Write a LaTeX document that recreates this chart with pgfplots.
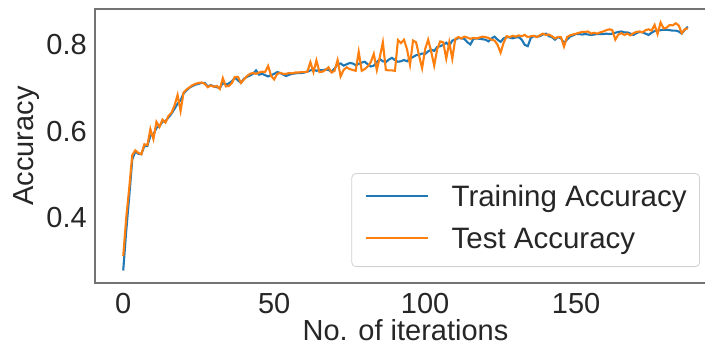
\documentclass[border=0pt]{standalone}
\usepackage{fontspec}
\setmainfont{Liberation Sans}
\usepackage{pgfplots}
\pgfplotsset{compat=1.18}
\usepackage{pgfplotstable}

\definecolor{trainblue}{HTML}{1F77B4}
\definecolor{testorange}{HTML}{FF7F0E}
\definecolor{ink}{rgb}{0.15,0.15,0.15}
\newcommand{\bigfont}{\fontsize{29bp}{34bp}\selectfont}
\newcommand{\legfont}{\fontsize{29.5bp}{34bp}\selectfont}

% accuracy per iteration: training and test
\pgfplotstableread{
it train test
0 0.278 0.311
1 0.370 0.400
2 0.450 0.470
3 0.535 0.545
4 0.553 0.556
5 0.548 0.550
6 0.547 0.547
7 0.566 0.570
8 0.566 0.568
9 0.590 0.605
10 0.592 0.582
11 0.608 0.622
12 0.612 0.610
13 0.622 0.627
14 0.624 0.620
15 0.632 0.636
16 0.641 0.643
17 0.652 0.660
18 0.664 0.684
19 0.672 0.647
20 0.688 0.690
21 0.695 0.697
22 0.701 0.702
23 0.705 0.707
24 0.708 0.710
25 0.710 0.712
26 0.712 0.713
27 0.712 0.710
28 0.704 0.702
29 0.707 0.706
30 0.704 0.703
31 0.702 0.705
32 0.700 0.698
33 0.712 0.723
34 0.708 0.704
35 0.711 0.705
36 0.716 0.712
37 0.724 0.726
38 0.718 0.726
39 0.712 0.712
40 0.722 0.720
41 0.726 0.728
42 0.729 0.733
43 0.733 0.735
44 0.741 0.733
45 0.731 0.736
46 0.733 0.738
47 0.730 0.737
48 0.727 0.751
49 0.730 0.728
50 0.733 0.720
51 0.737 0.733
52 0.735 0.735
53 0.731 0.733
54 0.728 0.733
55 0.731 0.735
56 0.733 0.734
57 0.734 0.736
58 0.735 0.736
59 0.735 0.737
60 0.736 0.737
61 0.738 0.738
62 0.741 0.760
63 0.743 0.737
64 0.740 0.764
65 0.742 0.737
66 0.741 0.738
67 0.743 0.742
68 0.742 0.748
69 0.738 0.736
70 0.745 0.740
71 0.755 0.765
72 0.757 0.727
73 0.752 0.742
74 0.755 0.748
75 0.758 0.744
76 0.757 0.742
77 0.753 0.740
78 0.756 0.784
79 0.759 0.740
80 0.761 0.744
81 0.755 0.750
82 0.750 0.760
83 0.752 0.779
84 0.760 0.742
85 0.767 0.772
86 0.762 0.806
87 0.760 0.742
88 0.766 0.741
89 0.770 0.741
90 0.765 0.740
91 0.761 0.811
92 0.762 0.804
93 0.765 0.812
94 0.762 0.790
95 0.768 0.754
96 0.772 0.810
97 0.776 0.806
98 0.777 0.775
99 0.780 0.746
100 0.779 0.790
101 0.785 0.812
102 0.789 0.785
103 0.786 0.752
104 0.795 0.790
105 0.797 0.808
106 0.800 0.806
107 0.805 0.768
108 0.798 0.806
109 0.810 0.768
110 0.812 0.814
111 0.816 0.818
112 0.815 0.815
113 0.814 0.819
114 0.806 0.817
115 0.801 0.814
116 0.814 0.816
117 0.815 0.815
118 0.814 0.817
119 0.813 0.819
120 0.812 0.818
121 0.808 0.816
122 0.815 0.812
123 0.819 0.810
124 0.812 0.800
125 0.807 0.782
126 0.815 0.805
127 0.818 0.820
128 0.817 0.818
129 0.815 0.821
130 0.817 0.819
131 0.818 0.822
132 0.812 0.820
133 0.800 0.823
134 0.797 0.818
135 0.816 0.820
136 0.820 0.821
137 0.819 0.818
138 0.820 0.822
139 0.824 0.826
140 0.826 0.823
141 0.820 0.824
142 0.818 0.820
143 0.812 0.815
144 0.818 0.818
145 0.815 0.818
146 0.804 0.796
147 0.812 0.818
148 0.819 0.822
149 0.822 0.824
150 0.825 0.826
151 0.825 0.828
152 0.824 0.830
153 0.825 0.830
154 0.824 0.831
155 0.823 0.826
156 0.824 0.828
157 0.825 0.826
158 0.825 0.829
159 0.825 0.831
160 0.826 0.834
161 0.825 0.836
162 0.826 0.834
163 0.828 0.812
164 0.830 0.824
165 0.831 0.827
166 0.829 0.823
167 0.829 0.826
168 0.826 0.822
169 0.823 0.827
170 0.827 0.830
171 0.830 0.831
172 0.829 0.829
173 0.826 0.834
174 0.823 0.836
175 0.828 0.833
176 0.832 0.846
177 0.833 0.825
178 0.834 0.852
179 0.835 0.838
180 0.835 0.840
181 0.834 0.846
182 0.833 0.845
183 0.833 0.850
184 0.831 0.845
185 0.826 0.827
186 0.835 0.836
187 0.842 0.838
}\acc

\begin{document}
\begin{tikzpicture}
\begin{axis}[
  at={(0,0)}, anchor=south west,
  scale only axis, width=621bp, height=274bp,
  xmin=-9.35, xmax=196.35, ymin=0.249, ymax=0.883,
  xtick={0,50,100,150}, ytick={0.4,0.6,0.8},
  major tick length=0pt,
  axis line style={draw=black!55, line width=1.25bp},
  /pgf/number format/assume math mode=true,
  tick label style={font=\bigfont, text=ink, inner sep=0pt},
  xticklabel style={anchor=north, yshift=-10bp},
  yticklabel style={anchor=east, xshift=-8bp,
    /pgf/number format/fixed, /pgf/number format/precision=1},
  label style={font=\bigfont, text=ink, inner sep=0pt},
  xlabel={No. of iterations},
  ylabel={Accuracy},
  xlabel style={at={([yshift=-57bp]rel axis cs:0.5,0)}, anchor=base},
  ylabel style={at={([xshift=-61bp]rel axis cs:0,0.5)}, anchor=base, rotate=0},
  legend cell align=left,
  legend style={at={(rel axis cs:0.9742,0.0584)}, anchor=south east,
    draw=black!18, line width=0.8bp, rounded corners=4bp, fill=white,
    font=\legfont, text=ink,
    inner xsep=13bp, inner ysep=12bp, row sep=15bp,
    nodes={inner sep=0pt, text depth=6bp, text height=21bp}},
  legend image code/.code={
    \draw[#1, line width=1.5bp] (0bp,3bp) -- (62bp,3bp);
    \path[draw=none] (0bp,0bp) -- (86bp,0bp);},
]
\addplot[trainblue, line width=2.1bp] table[x=it, y=train] {\acc};
\addlegendentry{Training Accuracy}
\addplot[testorange, line width=2.1bp] table[x=it, y=test] {\acc};
\addlegendentry{Test Accuracy}
\end{axis}
\pgfresetboundingbox
\useasboundingbox (-95bp,-69bp) rectangle (610bp,283bp);
\end{tikzpicture}
\end{document}
